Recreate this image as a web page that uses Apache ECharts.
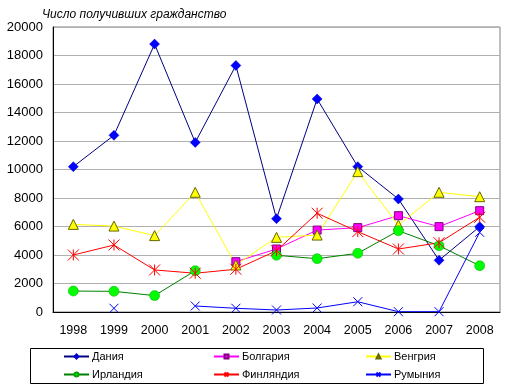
<!DOCTYPE html>
<html><head><meta charset="utf-8">
<script src="https://cdn.jsdelivr.net/npm/echarts@6/dist/echarts.min.js"></script>
<style>html,body{margin:0;padding:0;background:#fff}#c{width:515px;height:391px}</style>
</head><body><div id="c"></div>
<script>
const years = ['1998','1999','2000','2001','2002','2003','2004','2005','2006','2007','2008'];
const denmark  = [10200, 12400, 18800, 11900, 17300, 6550, 14950, 10200, 7930, 3630, 5990];
const bulgaria = [null, null, null, null, 3530, 4420, 5750, 5920, 6760, 5990, 7110];
const hungary  = [6150, 6030, 5360, 8400, 3300, 5240, 5400, 9850, 6100, 8400, 8090];
const ireland  = [1470, 1450, 1150, 2900, null, 3980, 3740, 4120, 5700, 4650, 3250];
const finland  = [4000, 4700, 2950, 2720, 3000, 4300, 6930, 5640, 4420, 4860, 6650];
const romania  = [null, 260, null, 420, 260, 140, 280, 720, 20, 20, 5590];
const names = ['Дания','Болгария','Венгрия','Ирландия','Финляндия','Румыния'];
const yTicks = {min: 0, max: 20000, interval: 2000};

const FONT = '"Liberation Sans", Arial, sans-serif';
const starPath = 'path://M0,0L10,10M10,0L0,10M5,0L5,10';
const xPath = 'path://M0,0L10,10M10,0L0,10';

function mk(name, data, lineColor, symbol, size, fill, border, bw) {
  return {
    name, type: 'line', data, connectNulls: false,
    symbol, symbolSize: size, showSymbol: true,
    lineStyle: {color: lineColor, width: 1},
    itemStyle: {color: fill, borderColor: border, borderWidth: bw},
    emphasis: {disabled: true}, animation: false
  };
}

const series = [
  mk(names[0], denmark, '#000080', 'diamond', 10, '#0000FF', '#0000CC', 0.5),
  mk(names[1], bulgaria, '#FF00FF', 'rect', 8, '#FF00FF', '#800080', 1),
  mk(names[2], hungary, '#FFFF00', 'triangle', 10, '#FFFF00', '#666600', 1),
  mk(names[3], ireland, '#008000', 'circle', 10, '#00FF00', '#00A000', 0.5),
  mk(names[4], finland, '#FF0000', starPath, 11, 'rgba(0,0,0,0)', '#FF0000', 1),
  mk(names[5], romania, '#0000FF', xPath, 9, 'rgba(0,0,0,0)', '#0000FF', 1)
];

const legendPos = [[63,351],[213,351],[365,351],[63,369],[213,369],[365,369]];
const legends = names.map((n,i)=>({
  data:[n], left: legendPos[i][0], top: legendPos[i][1],
  itemWidth: 25, itemHeight: 5, itemGap: 0, padding: 0,
  textStyle: {fontFamily: FONT, fontSize: 11, color: '#000', padding:[0,0,0,-2]},
  selectedMode: false
}));

const chart = echarts.init(document.getElementById('c'), null, {renderer: 'canvas'});
chart.setOption({
  backgroundColor: '#fff',
  animation: false,
  title: {
    text: 'Число получивших гражданство', left: 42, top: 9, padding: 0,
    textStyle: {fontFamily: FONT, fontSize: 12, fontStyle: 'italic', fontWeight: 'normal', color: '#000'}
  },
  legend: legends,
  grid: {left: 53, top: 27, right: 15, bottom: 79, show: true, borderColor: '#808080', borderWidth: 1, containLabel: false},
  xAxis: {
    type: 'category', data: years, boundaryGap: true,
    axisLine: {lineStyle: {color: '#000', width: 1}},
    axisTick: {show: false},
    axisLabel: {fontFamily: FONT, fontSize: 12.5, color: '#000', margin: 12},
    splitLine: {show: false}
  },
  yAxis: {
    type: 'value', min: yTicks.min, max: yTicks.max, interval: yTicks.interval,
    axisLine: {show: true, lineStyle: {color: '#000', width: 1}},
    axisTick: {show: false},
    axisLabel: {fontFamily: FONT, fontSize: 13, color: '#000', margin: 10, formatter: v => String(v)},
    splitLine: {lineStyle: {color: '#B0B0B0', width: 1}}
  },
  graphic: [{
    type: 'rect', left: 30, top: 348, z: -1,
    shape: {width: 453, height: 35},
    style: {fill: '#fff', stroke: '#000', lineWidth: 1}
  }],
  series
});
</script></body></html>
